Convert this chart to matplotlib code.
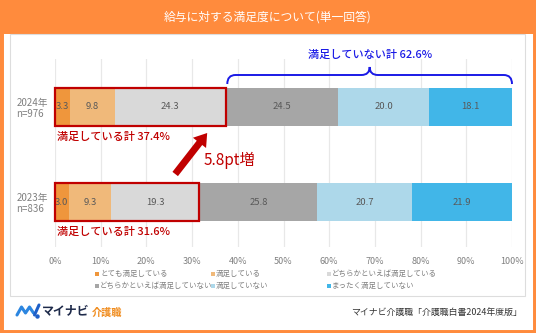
import matplotlib
matplotlib.use("Agg")
import matplotlib.pyplot as plt
from matplotlib.patches import Rectangle, PathPatch
from matplotlib.path import Path

plt.rcParams['font.family'] = ['Noto Sans CJK JP', 'DejaVu Sans']

# data
years = ['2024年\nn=976', '2023年\nn=836']
categories = ['とても満足している', '満足している', 'どちらかといえば満足している',
              'どちらかといえば満足していない', '満足していない', 'まったく満足していない']
values_2024 = [3.3, 9.8, 24.3, 24.5, 20.0, 18.1]
values_2023 = [3.0, 9.3, 19.3, 25.8, 20.7, 21.9]
satisfied_totals = [37.4, 31.6]
unsatisfied_total_2024 = 62.6
diff_pt = 5.8
xticks = [0, 10, 20, 30, 40, 50, 60, 70, 80, 90, 100]
colors = ['#EF963C', '#F0B97A', '#D9D9D9', '#A6A6A6', '#ADD8EA', '#41B6E8']

ORANGE = '#FF8B3D'
RED = '#C00000'
BLUE = '#1A1AE6'
W, H = 536, 333

fig = plt.figure(figsize=(W / 100, H / 100), dpi=100)

def fx(x):
    return x / W

def fy(y):
    return 1 - y / H

# frame, title band, inner panel
fig.patches.append(Rectangle((0, 0), 1, 1, transform=fig.transFigure, facecolor='white',
                             edgecolor=ORANGE, linewidth=5, zorder=-10))
fig.patches.append(Rectangle((0, fy(34)), 1, 34 / H, transform=fig.transFigure,
                             facecolor=ORANGE, edgecolor='none', zorder=-9))
fig.patches.append(Rectangle((fx(10), fy(296)), fx(515), 262 / H, transform=fig.transFigure,
                             facecolor='white', edgecolor='#DDDDDD', linewidth=0.8, zorder=-8))
fig.text(0.5, fy(17), '給与に対する満足度について(単一回答)', color='white',
         fontsize=8.5, ha='center', va='center')

# axes
ax = fig.add_axes([fx(55), fy(247), fx(457), 188 / H])
ytop, ybot = -0.504, 1.472
span = ybot - ytop
bar_h = 0.40

def ypx(p):
    return ytop + (p - 59) / 188 * span

ypos = [0, 1]
for row, vals in zip(ypos, [values_2024, values_2023]):
    left = 0
    for v, c in zip(vals, colors):
        ax.barh(row, v, left=left, height=bar_h, color=c, zorder=2)
        ax.text(left + v / 2, row, f'{v:.1f}', ha='center', va='center',
                fontsize=6.8, color='#595959', zorder=3)
        left += v

ax.set_xlim(0, 100)
ax.set_ylim(ybot, ytop)
ax.set_xticks(xticks)
ax.set_xticklabels([f'{t}%' for t in xticks], fontsize=6.5, color='#808080')
ax.set_yticks(ypos)
ax.set_yticklabels(years, fontsize=7, color='#808080', linespacing=1.1,
                   multialignment='left')
ax.tick_params(length=0, pad=5)
ax.tick_params(axis='x', pad=7)
ax.xaxis.grid(True, color='#E8E8E8', linewidth=0.9, zorder=0)
ax.set_axisbelow(True)
for s in ax.spines.values():
    s.set_visible(False)

# red boxes + labels
for row, tot in zip(ypos, satisfied_totals):
    ax.add_patch(Rectangle((0, row - bar_h / 2), tot, bar_h, facecolor='none',
                           edgecolor=RED, linewidth=1.6, zorder=4, clip_on=False))
    ax.text(0.4, row + 0.315, f'満足している計 {tot}%', color=RED, fontsize=8,
            fontweight='medium', ha='left', va='center')

# arrow
ax.annotate('', xy=(33.3, ypx(133)), xytext=(26.3, ypx(174)),
            arrowprops=dict(width=5, headwidth=12, headlength=9, color=RED, lw=0),
            annotation_clip=False)
ax.text(32.6, ypx(160), f'{diff_pt}pt増', color=RED, fontsize=11,
        ha='left', va='center')

# brace over unsatisfied
x0, x1 = satisfied_totals[0] + 0.3, 100
xm = (x0 + x1) / 2
yl, yb, yt = ypx(84), ypx(75), ypx(67)
dx = 1.8
verts = [(x0, yl), (x0, yb), (x0 + dx, yb),
         (xm - dx, yb), (xm, yb), (xm, yt),
         (xm, yb), (xm + dx, yb),
         (x1 - dx, yb), (x1, yb), (x1, yl)]
codes = [Path.MOVETO, Path.CURVE3, Path.CURVE3,
         Path.LINETO, Path.CURVE3, Path.CURVE3,
         Path.CURVE3, Path.CURVE3,
         Path.LINETO, Path.CURVE3, Path.CURVE3]
ax.add_patch(PathPatch(Path(verts, codes), facecolor='none', edgecolor=BLUE,
                       linewidth=1.4, clip_on=False, zorder=5))
ax.text(xm, ypx(55), f'満足していない計 {unsatisfied_total_2024}%', color=BLUE,
        fontsize=8, fontweight='medium', ha='center', va='center')

# legend
leg_x = [95, 211, 327]
leg_y = [274, 286]
for i, (cat, c) in enumerate(zip(categories, colors)):
    x = leg_x[i % 3]
    y = leg_y[i // 3]
    fig.patches.append(Rectangle((fx(x), fy(y + 2)), fx(4), 4 / H, transform=fig.transFigure,
                                 facecolor=c, edgecolor='none'))
    fig.text(fx(x + 5), fy(y), cat, fontsize=5.4, color='#7F7F7F', ha='left', va='center')

# footer logo
mark_x = [17, 21.5, 25.5, 29.5, 33.5]
mark_y = [315, 307, 313, 307, 313]
fig.lines.append(plt.Line2D([fx(v) for v in mark_x], [fy(v) for v in mark_y],
                            transform=fig.transFigure, color='#2C86E0', linewidth=2.2,
                            solid_capstyle='round', solid_joinstyle='round'))
fig.lines.append(plt.Line2D([fx(34.5), fx(39)], [fy(315), fy(305)], transform=fig.transFigure,
                            color='#1E5FC8', linewidth=2.2, solid_capstyle='round'))
fig.lines.append(plt.Line2D([fx(37)], [fy(315.5)], transform=fig.transFigure, marker='o',
                            markersize=2.2, color='#1E5FC8'))
fig.text(fx(42), fy(311), 'マイナビ', fontsize=8.6, fontweight='bold', color='#1E2A4A',
         ha='left', va='center')
fig.text(fx(92), fy(312.5), '介護職', fontsize=7.3, fontweight='bold', color='#F08C1E',
         ha='left', va='center')
fig.text(fx(522), fy(312), 'マイナビ介護職「介護職白書2024年度版」', fontsize=6.4,
         color='#333333', ha='right', va='center')

fig.savefig('out.png', dpi=100)
